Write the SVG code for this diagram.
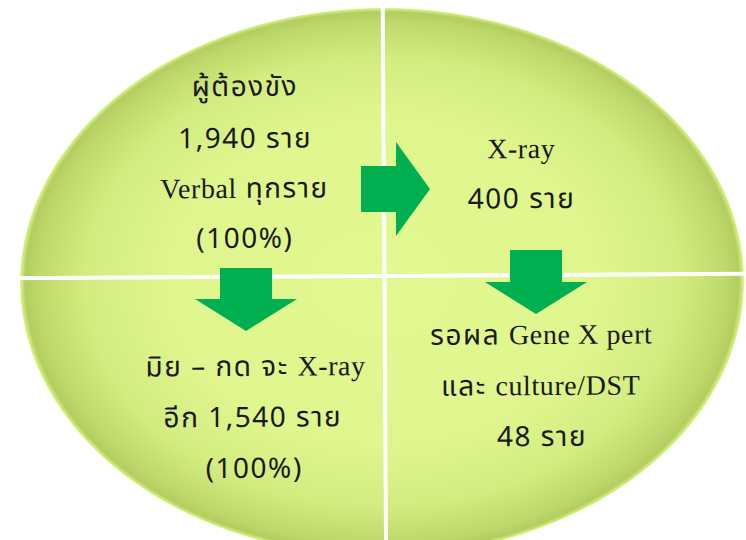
<svg xmlns="http://www.w3.org/2000/svg" width="746" height="540" viewBox="0 0 746 540">
  <defs>
    <radialGradient id="shade" gradientUnits="userSpaceOnUse" cx="0" cy="0" r="1" gradientTransform="translate(382,282) scale(362,274)">
      <stop offset="0" stop-color="#e2f991"/>
      <stop offset="0.6" stop-color="#def68d"/>
      <stop offset="0.82" stop-color="#d3ec80"/>
      <stop offset="0.95" stop-color="#bdd86b"/>
      <stop offset="0.985" stop-color="#b2ce60"/>
      <stop offset="0.995" stop-color="#cfe97a"/>
      <stop offset="1" stop-color="#dcf58a"/>
    </radialGradient>
    <ellipse id="oval" cx="382" cy="282" rx="362" ry="274"/>
    <clipPath id="cTL"><rect x="0" y="0" width="382.4" height="274"/></clipPath>
    <clipPath id="cTR"><rect x="386.4" y="0" width="400" height="274"/></clipPath>
    <clipPath id="cBL"><rect x="0" y="278" width="382.4" height="300"/></clipPath>
    <clipPath id="cBR"><rect x="386.4" y="278" width="400" height="300"/></clipPath>
  </defs>
  <style>
    .q { fill: url(#shade); }
    .t { font-family: "Noto Sans Thai", "Noto Sans", "DejaVu Sans", sans-serif; font-size: 28px; letter-spacing: 1.5px; fill: #1a1a1a; text-anchor: middle; }
    .lat { font-family: "Liberation Serif", "DejaVu Serif", serif; font-size: 28px; letter-spacing: 0.6px; }
    .arrow { fill: #00b050; }
  </style>
  <rect width="746" height="540" fill="#ffffff"/>
  <g transform="rotate(-0.35 384 276)">
    <g id="q-top-left">
      <use href="#oval" class="q" clip-path="url(#cTL)"/>
      <text class="t" x="246" y="95">ผู้ต้องขัง</text>
      <text class="t" x="246" y="147">1,940 ราย</text>
      <text class="t" x="245" y="197"><tspan class="lat">Verbal</tspan> ทุกราย</text>
      <text class="t" x="245" y="247">(100%)</text>
    </g>
    <g id="q-top-right">
      <use href="#oval" class="q" clip-path="url(#cTR)"/>
      <text class="t" x="522" y="159"><tspan class="lat">X-ray</tspan></text>
      <text class="t" x="522" y="209">400 ราย</text>
    </g>
    <g id="q-bottom-left">
      <use href="#oval" class="q" clip-path="url(#cBL)"/>
      <text class="t" x="255" y="375">มิย – กด จะ <tspan class="lat">X-ray</tspan></text>
      <text class="t" x="252" y="426">อีก 1,540 ราย</text>
      <text class="t" x="253" y="477">(100%)</text>
    </g>
    <g id="q-bottom-right">
      <use href="#oval" class="q" clip-path="url(#cBR)"/>
      <text class="t" x="541" y="345">รอผล <tspan class="lat">Gene X pert</tspan></text>
      <text class="t" x="540" y="396">และ <tspan class="lat">culture/DST</tspan></text>
      <text class="t" x="541" y="447">48 ราย</text>
    </g>
  </g>
  <g id="connectors">
    <path class="arrow" d="M361,166 L396,166 L396,142 L430,189 L396,236 L396,212 L361,212 Z"/>
    <path class="arrow" d="M220,268 L272,268 L272,299 L297,299 L246,331 L195,299 L220,299 Z"/>
    <path class="arrow" d="M510,250 L562,250 L562,282 L587,282 L536,314 L485,282 L510,282 Z"/>
  </g>
</svg>
